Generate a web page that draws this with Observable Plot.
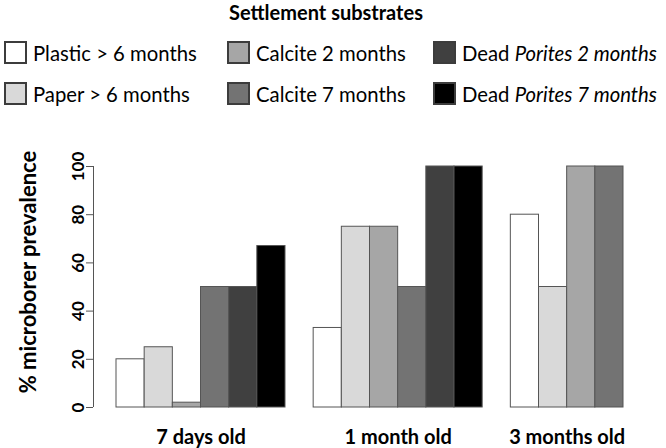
<!DOCTYPE html>
<html>
<head>
<meta charset="utf-8">
<script src="https://cdn.jsdelivr.net/npm/d3@7"></script>
<script src="https://cdn.jsdelivr.net/npm/@observablehq/plot@0.6"></script>
<style>
  body { margin: 0; background: #fff; font-family: Lato, "Open Sans", sans-serif; color: #000; }
  #wrap { width: 666px; height: 448px; position: relative; overflow: hidden; }
  #legend { position: relative; height: 110px; }
  #legend .title { position: absolute; left: 0; width: 652px; top: 1px; text-align: center; font-weight: bold; font-size: 20px; line-height: 22px; }
  #legend .item { position: absolute; display: flex; align-items: center; font-size: 20.3px; line-height: 22px; white-space: nowrap; }
  #legend .sw { width: 19px; height: 19px; border: 2px solid #3c3c3c; margin-right: 6px; box-sizing: content-box; }
  #chart svg { display: block; overflow: visible; }
</style>
</head>
<body>
<div id="wrap">
  <div id="legend"></div>
  <div id="chart"></div>
</div>
<script>
// ---- data ----
const legendTitle = "Settlement substrates";
const groups = ["7 days old", "1 month old", "3 months old"];
const substrates = [
  "Plastic > 6 months",
  "Paper > 6 months",
  "Calcite 2 months",
  "Calcite 7 months",
  "Dead Porites 2 months",
  "Dead Porites 7 months"
];
const substrateColors = ["#ffffff", "#d9d9d9", "#a6a6a6", "#737373", "#404040", "#000000"];
const values7days = [20, 25, 2, 50, 50, 67];
const values1month = [33, 75, 75, 50, 100, 100];
const values3months = [80, 50, 100, 100];
const yTicks = [0, 20, 40, 60, 80, 100];
const yLabel = "% microborer prevalence";

// ---- build table: each bar gets one slot, one empty slot between groups ----
const groupValues = [values7days, values1month, values3months];
const bars = [];
const groupCenters = [];
let slot = 0;
groupValues.forEach((vals, gi) => {
  const start = slot;
  vals.forEach((v, si) => {
    bars.push({group: groups[gi], substrate: substrates[si], value: v, x1: slot, x2: slot + 1});
    slot += 1;
  });
  groupCenters.push({group: groups[gi], center: (start + slot) / 2});
  slot += 1; // gap
});
const nSlots = slot - 1;

// ---- legend (HTML) ----
const legend = document.getElementById("legend");
const t = document.createElement("div");
t.className = "title";
t.textContent = legendTitle;
legend.appendChild(t);
const colLeft = [4, 227, 433];
const rowTop = [41, 82];
substrates.forEach((s, i) => {
  const col = Math.floor(i / 2), row = i % 2;
  const it = document.createElement("div");
  it.className = "item";
  it.style.left = colLeft[col] + "px";
  it.style.top = rowTop[row] + "px";
  const sw = document.createElement("div");
  sw.className = "sw";
  sw.style.background = substrateColors[i];
  it.appendChild(sw);
  const lab = document.createElement("span");
  if (s.startsWith("Dead ")) {
    lab.append("Dead\u00a0");
    const em = document.createElement("i");
    em.textContent = s.slice(5);
    lab.appendChild(em);
  } else {
    lab.textContent = s;
  }
  it.appendChild(lab);
  legend.appendChild(it);
});

// ---- chart ----
const axisGap = 23;
const chart = Plot.plot({
  width: 666,
  height: 338,
  marginTop: 56,
  marginBottom: 41,
  marginLeft: 93,
  marginRight: 43,
  style: {fontFamily: "Lato, 'Open Sans', sans-serif", color: "#000", background: "transparent", overflow: "visible"},
  x: {domain: [0, nSlots], insetLeft: axisGap, axis: null},
  y: {domain: [0, 100], axis: null},
  color: {domain: substrates, range: substrateColors},
  marks: [
    Plot.rectY(bars, {x1: "x1", x2: "x2", y: "value", fill: "substrate", stroke: "#555", strokeWidth: 1}),
    Plot.ruleX([0], {x: 0, dx: -axisGap, y1: 0, y2: 100, stroke: "#555", strokeWidth: 1}),
    Plot.axisY({ticks: yTicks, tickSize: 7, tickRotate: -90, fontSize: 17, fontWeight: "bold", stroke: "#555", label: null}),
    Plot.text([yLabel], {frameAnchor: "left", textAnchor: "middle", dx: -65, dy: -15, rotate: -90, fontSize: 22, fontWeight: "bold"}),
    Plot.text(groupCenters, {x: "center", text: "group", frameAnchor: "bottom", dy: 36, fontSize: 20, fontWeight: "bold"})
  ]
});
document.getElementById("chart").appendChild(chart);
</script>
</body>
</html>
